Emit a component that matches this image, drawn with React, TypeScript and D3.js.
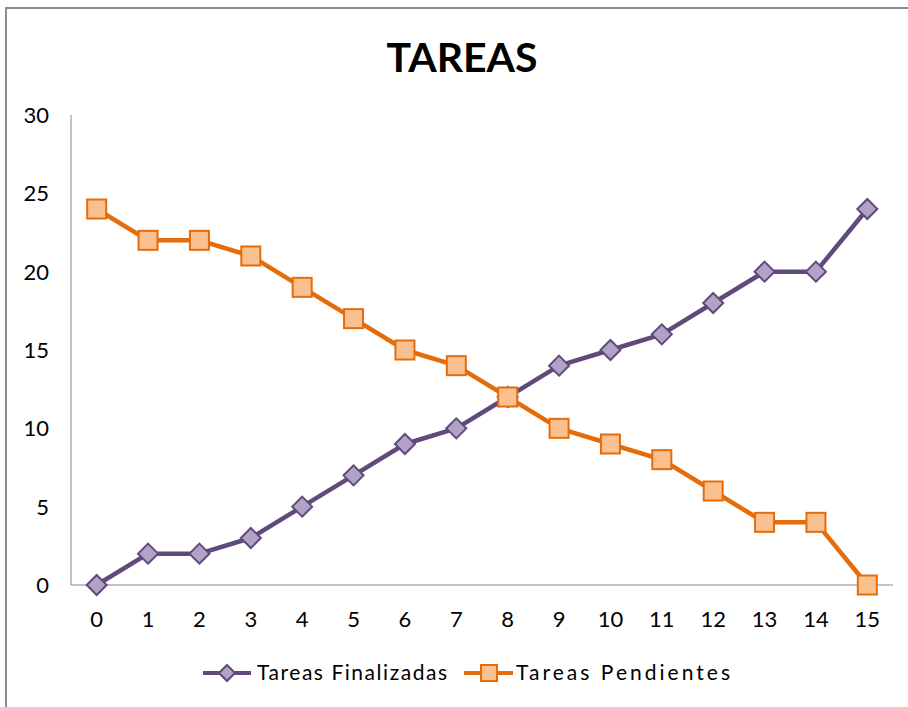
import React from "react";
import * as d3 from "d3";

const categories = ["0","1","2","3","4","5","6","7","8","9","10","11","12","13","14","15"];
const finalizadas = [0, 2, 2, 3, 5, 7, 9, 10, 12, 14, 15, 16, 18, 20, 20, 24];
const pendientes = [24, 22, 22, 21, 19, 17, 15, 14, 12, 10, 9, 8, 6, 4, 4, 0];
const yTicks = [0, 5, 10, 15, 20, 25, 30];
const seriesNames = ["Tareas Finalizadas", "Tareas Pendientes"];

const W = 908, H = 707;
const left = 71, right = 893, top = 115, bottom = 585;
const FONT = "Lato, 'Open Sans', sans-serif";

const purple = { line: "#604A7B", fill: "#B3A2C7", stroke: "#604A7B" };
const orange = { line: "#E46C0A", fill: "#FAC090", stroke: "#E46C0A" };

function Diamond({ x, y, s, c }: { x: number; y: number; s: number; c: any }) {
  const d = `M${x},${y - s}L${x + s},${y}L${x},${y + s}L${x - s},${y}Z`;
  return <path d={d} fill={c.fill} stroke={c.stroke} strokeWidth={2} />;
}
function Square({ x, y, s, c }: { x: number; y: number; s: number; c: any }) {
  return <rect x={x - s} y={y - s} width={2 * s} height={2 * s} fill={c.fill} stroke={c.stroke} strokeWidth={2} />;
}

export default function App() {
  const x = d3.scaleBand<string>().domain(categories).range([left, right]);
  const y = d3.scaleLinear().domain([0, 30]).range([bottom, top]);
  const cx = (i: number) => (x(categories[i]) as number) + x.bandwidth() / 2;
  const line = d3.line<number>().x((_, i) => cx(i)).y((v) => y(v));

  return (
    <svg width={W} height={H} style={{ position: "absolute", left: 0, top: 0, display: "block" }}>
      <rect x={0} y={0} width={W} height={H} fill="white" />
      <rect x={6} y={8} width={W + 10} height={H + 10} fill="white" stroke="#8C8C8C" strokeWidth={2} />
      <text x={462} y={72} textAnchor="middle" fontFamily={FONT} fontWeight="bold" fontSize={41} fill="#000">TAREAS</text>

      <line x1={left} x2={left} y1={top} y2={bottom} stroke="#868686" strokeWidth={1} />
      <line x1={left} x2={right} y1={bottom} y2={bottom} stroke="#868686" strokeWidth={1} />

      {yTicks.map((t) => (
        <text key={t} x={49} y={y(t) + 8} textAnchor="end" fontFamily={FONT} fontSize={22} fill="#000">{t}</text>
      ))}
      {categories.map((c, i) => (
        <text key={c} x={cx(i)} y={627} textAnchor="middle" fontFamily={FONT} fontSize={22} fill="#000">{c}</text>
      ))}

      <path d={line(finalizadas) || ""} fill="none" stroke={purple.line} strokeWidth={4.5} strokeLinejoin="round" />
      <path d={line(pendientes) || ""} fill="none" stroke={orange.line} strokeWidth={4.5} strokeLinejoin="round" />
      {finalizadas.map((v, i) => <Diamond key={i} x={cx(i)} y={y(v)} s={10} c={purple} />)}
      {pendientes.map((v, i) => <Square key={i} x={cx(i)} y={y(v)} s={9.5} c={orange} />)}

      <line x1={203} x2={251} y1={673} y2={673} stroke={purple.line} strokeWidth={4} />
      <Diamond x={227} y={673} s={8} c={purple} />
      <text x={257} y={680} fontFamily={FONT} fontSize={21} textLength={190} lengthAdjust="spacing" fill="#000">{seriesNames[0]}</text>
      <line x1={464} x2={513} y1={673} y2={673} stroke={orange.line} strokeWidth={4} />
      <Square x={489} y={673} s={8} c={orange} />
      <text x={516} y={680} fontFamily={FONT} fontSize={21} textLength={214} lengthAdjust="spacing" fill="#000">{seriesNames[1]}</text>
    </svg>
  );
}
